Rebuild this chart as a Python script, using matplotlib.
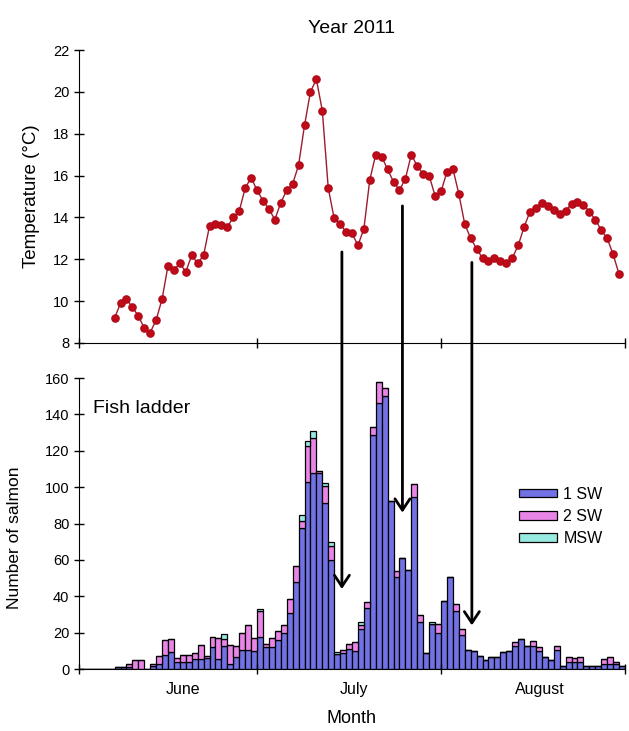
import numpy as np
import matplotlib
matplotlib.use("Agg")
import matplotlib.pyplot as plt
from matplotlib.patches import ConnectionPatch

plt.rcParams['font.family'] = ['Liberation Sans', 'DejaVu Sans']

# Days counted from 1 June (0) to the end of August (92)
month_names = ["June", "July", "August"]
month_edges = [0, 30, 61, 92]
month_label_pos = [17.5, 46.4, 77.6]

# Daily water temperature, days 6..91
temp_days = list(range(6, 92))
temp = [9.2, 9.9, 10.1, 9.7, 9.3, 8.7, 8.5, 9.1, 10.1, 11.7,
        11.5, 11.8, 11.4, 12.2, 11.8, 12.2, 13.6, 13.7, 13.65, 13.55,
        14.0, 14.3, 15.4, 15.9, 15.3, 14.8, 14.4, 13.9, 14.7, 15.3,
        15.6, 16.5, 18.4, 20.0, 20.6, 19.1, 15.4, 13.95, 13.7, 13.3,
        13.25, 12.66, 13.45, 15.8, 17.0, 16.9, 16.3, 15.7, 15.3, 15.85,
        17.0, 16.45, 16.07, 16.0, 15.03, 15.24, 16.17, 16.33, 15.13, 13.68,
        13.0, 12.5, 12.05, 11.92, 12.05, 11.9, 11.84, 12.05, 12.66, 13.54,
        14.28, 14.44, 14.71, 14.55, 14.36, 14.17, 14.32, 14.64, 14.73, 14.6,
        14.28, 13.89, 13.4, 13.0, 12.24, 11.29]

# Daily salmon counts in the fish ladder, days 0..91
sw1 = [0, 0, 0, 0, 0, 0, 1, 1, 1, 0,
       0, 0, 1.5, 3, 7.7, 9.5, 3.7, 3.7, 3.7, 5.5,
       5.5, 5.8, 12.2, 5.5, 12.8, 3, 6.8, 10.4, 10.4, 9.9,
       17.7, 12.2, 12, 16, 20, 31, 48, 77.6, 102.6, 107.8,
       108, 91.3, 59.7, 8, 9, 11, 10, 22, 33.4, 128.4,
       146.5, 150.1, 92.2, 50.6, 61.2, 54.4, 94.4, 25.6, 8.6, 24.5,
       20, 37.4, 50.6, 32, 18.8, 10.4, 10, 7.3, 5.1, 6.4,
       6.4, 9.1, 9.7, 12.8, 16.4, 12.8, 12.8, 9.7, 6.4, 5.1,
       10.4, 1.8, 3.7, 3.7, 3.7, 1.8, 1.8, 1.8, 2.5, 3,
       2.5, 1.8]
sw2 = [0, 0, 0, 0, 0, 0, 0, 0, 1.5, 5,
       5, 0, 1.5, 4, 8, 7, 2.5, 4, 4, 3.5,
       7.7, 1.5, 5.5, 11.3, 3.7, 10, 6, 9.5, 14, 7,
       14, 1.5, 5, 4.8, 4, 7.4, 8.6, 3.7, 19.8, 19.1,
       0.7, 9.2, 7.9, 0, 1.4, 2.7, 4.6, 2.4, 3.5, 4.9,
       11.5, 4.2, 0, 3.3, 0, 0, 7.5, 4, 0, 0,
       4.5, 0, 0, 4, 3.1, 0, 0, 0, 0, 0,
       0, 0, 0, 2.2, 0, 0, 2.4, 2.2, 0, 0,
       2.4, 0, 2.7, 2.3, 2.7, 0, 0, 0, 3, 3.8,
       1.2, 0]
msw = [0] * 92
msw[24] = 2.6
msw[30] = 1.3
msw[37] = 3.3
msw[38] = 3.1
msw[39] = 4.2
msw[41] = 1.8
msw[42] = 2.2
msw[43] = 1.5
msw[47] = 1.7
msw[59] = 1.5

# Arrows linking temperature drops to counts: (day, temp start, count end)
arrow_day = [44.3, 54.5, 66.2]
arrow_temp = [12.35, 14.55, 11.85]
arrow_count = [44, 86, 24]

c1, c2, c3 = '#7272E4', '#E985E6', '#97EAE0'

fig = plt.figure(figsize=(6.29, 7.31), dpi=100)
ax1 = fig.add_axes([0.1256, 0.5308, 0.868, 0.4008])
ax2 = fig.add_axes([0.1256, 0.0848, 0.868, 0.3981])

# temperature panel
ax1.plot(temp_days, temp, color='#9E1B2E', lw=1, marker='o', ms=5.2,
         mfc='#C00A18', mec='#B00A18')
ax1.set_xlim(0, 92)
ax1.set_ylim(8, 22)
ax1.set_yticks(range(8, 23, 2))
ax1.set_xticks(month_edges)
ax1.set_xticklabels([])
ax1.set_ylabel('Temperature (°C)', fontsize=13.5, labelpad=9)
ax1.set_title('Year 2011', fontsize=14, pad=12)

# salmon panel
days = np.arange(92) + 0.5
b1 = ax2.bar(days, sw1, width=1, color=c1, edgecolor='black', lw=0.9, label='1 SW')
b2 = ax2.bar(days, sw2, width=1, bottom=sw1, color=c2, edgecolor='black', lw=0.9, label='2 SW')
bot = np.array(sw1) + np.array(sw2)
b3 = ax2.bar(days, msw, width=1, bottom=bot, color=c3, edgecolor='black', lw=0.9, label='MSW')
ax2.set_xlim(0, 92)
ax2.set_ylim(0, 160)
ax2.set_yticks(range(0, 161, 20))
ax2.set_xticks(month_edges)
ax2.set_xticklabels([])
ax2.set_xticks(month_label_pos, minor=True)
ax2.set_xticklabels(month_names, minor=True, fontsize=11.5)
ax2.tick_params(axis='x', which='minor', length=0, pad=9)
ax2.set_xlabel('Month', fontsize=13, labelpad=10)
ax2.set_ylabel('Number of salmon', fontsize=12.5, labelpad=8)
ax2.yaxis.set_label_coords(-0.105, 0.45)
ax2.text(2.4, 143.5, 'Fish ladder', fontsize=14, va='center', ha='left')

for ax in (ax1, ax2):
    ax.spines['top'].set_visible(False)
    ax.spines['right'].set_visible(False)
    ax.tick_params(axis='both', which='major', direction='inout', length=7,
                   width=1, labelsize=10.5)

ax2.legend(handles=[b1, b2, b3], loc='upper left', frameon=False,
           bbox_to_anchor=(0.812, 0.345), bbox_transform=fig.transFigure,
           fontsize=11.5, handlelength=2.4, handleheight=0.45,
           handletextpad=0.4, labelspacing=0.45, borderpad=0)

for d, t, n in zip(arrow_day, arrow_temp, arrow_count):
    con = ConnectionPatch(xyA=(d, t), coordsA=ax1.transData,
                          xyB=(d, n), coordsB=ax2.transData,
                          arrowstyle='->,head_length=0.45,head_width=0.3',
                          mutation_scale=18, lw=2, color='black',
                          shrinkA=0, shrinkB=0)
    fig.add_artist(con)

fig.savefig('out.png', dpi=100)
